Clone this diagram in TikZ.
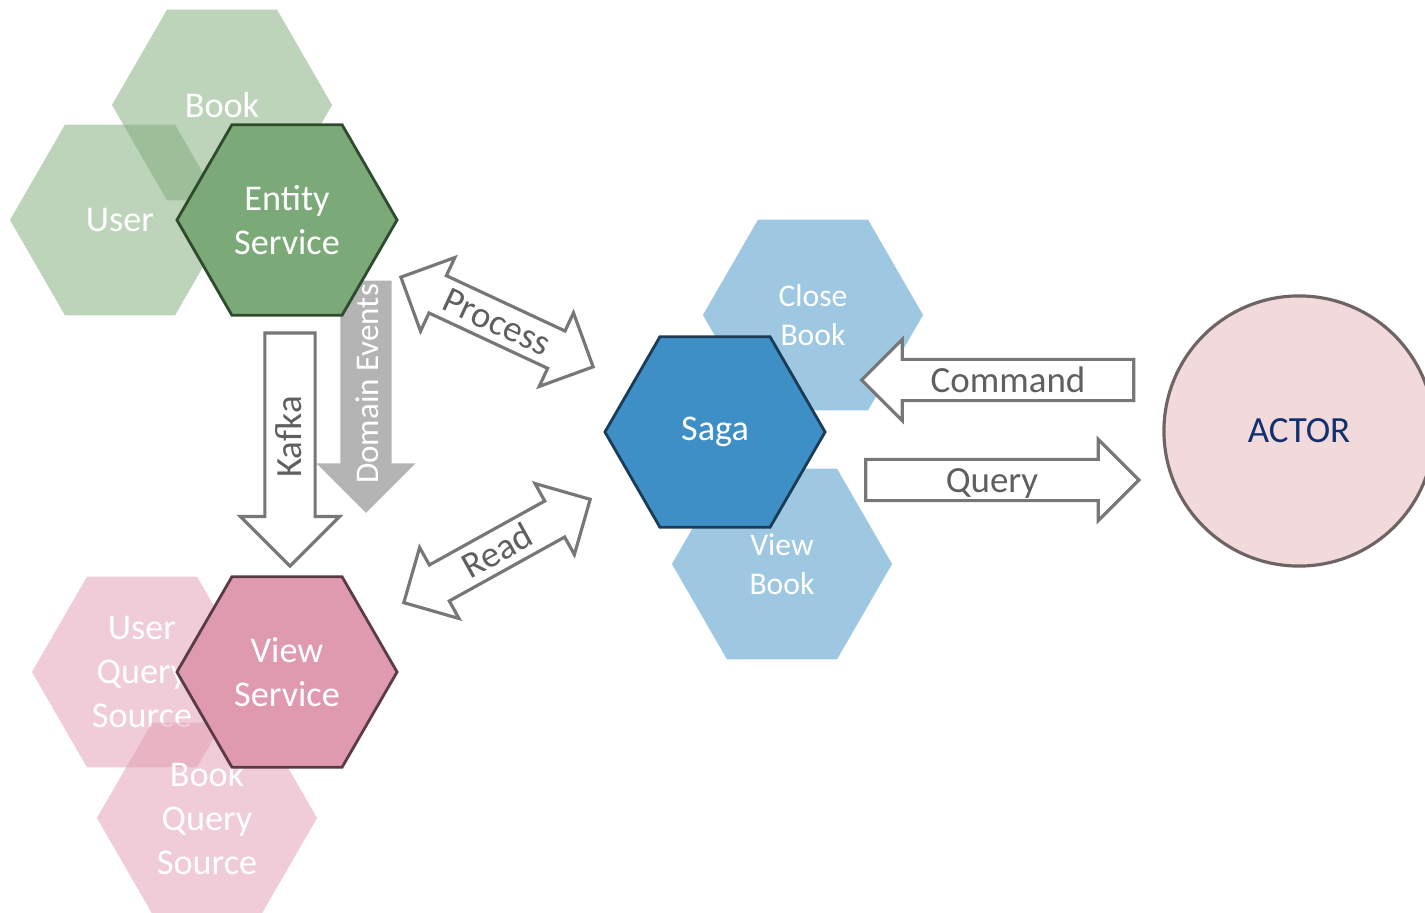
\documentclass[tikz,border=0pt]{standalone}
\usepackage{fontspec}
\setmainfont{Carlito}
\usetikzlibrary{shapes.geometric,shapes.arrows}

\definecolor{entitygreen}{HTML}{7BAA78}
\definecolor{entityline}{HTML}{2F4B2D}
\definecolor{viewpink}{HTML}{E09AAF}
\definecolor{viewline}{HTML}{5B3B45}
\definecolor{sagablue}{HTML}{3D8FC6}
\definecolor{sagaline}{HTML}{1B3C57}
\definecolor{actorfill}{HTML}{F2D9DB}
\definecolor{actorline}{HTML}{6E6464}
\definecolor{actortext}{HTML}{12306E}
\definecolor{arrowline}{HTML}{777777}
\definecolor{arrowtext}{HTML}{5F5F5F}
\definecolor{eventsgray}{HTML}{B4B4B4}

\begin{document}
\begin{tikzpicture}[x=0.01cm,y=-0.01cm,
    hex/.style={regular polygon,regular polygon sides=6,minimum size=2.2cm,inner sep=0pt,
                outer sep=0pt,align=center,text=white,font=\fontsize{10.3}{12.6}\selectfont},
    main hex/.style={hex,draw,line width=0.8pt},
    side hex/.style={hex,fill opacity=0.5,text opacity=1},
    small text/.style={font=\fontsize{9}{11}\selectfont},
    block/.style={draw=arrowline,line width=0.9pt,fill=white,text=arrowtext,inner sep=0pt,
                  outer sep=0pt,font=\fontsize{10.5}{12}\selectfont,text height=0.31cm,text depth=0.07cm},
    fat arrow/.style={block,single arrow,single arrow head extend=#1},
    twin arrow/.style={block,double arrow,double arrow head extend=#1}]

  \clip (0,0) rectangle (1425,913);

  % entity side
  \node[side hex,fill=entitygreen] (book) at (222,105) {Book};
  \node[side hex,fill=entitygreen] (user) at (120,220) {User};
  \node[fat arrow=0.24cm,draw=none,fill=eventsgray,text=white,font=\fontsize{9.4}{11}\selectfont,
        text height=0.36cm,text depth=0.12cm,rotate=90,shape border rotate=180,
        minimum height=2.32cm,minimum width=0.96cm] (events) at (366,384) {Domain Events};
  \node[main hex,fill=entitygreen,draw=entityline] (entity) at (287,220) {Entity\\Service};

  % view side
  \node[side hex,fill=viewpink] (userquery) at (142,672) {User\\Query\\Source};
  \node[side hex,fill=viewpink] (bookquery) at (207,818) {Book\\Query\\Source};
  \node[main hex,fill=viewpink,draw=viewline] (view) at (287,672) {View\\Service};

  % saga
  \node[side hex,fill=sagablue,small text] (closebook) at (813,315) {Close\\Book};
  \node[side hex,fill=sagablue,small text] (viewbook) at (782,564) {View\\Book};
  \node[main hex,fill=sagablue,draw=sagaline] (saga) at (715,432) {Saga};

  \node[circle,draw=actorline,fill=actorfill,line width=0.9pt,minimum size=2.7cm,text=actortext,
        font=\fontsize{10.5}{12}\selectfont] (actor) at (1299,431) {ACTOR};

  % block arrows
  \node[fat arrow=0.245cm,text height=0.35cm,text depth=0.12cm,rotate=90,shape border rotate=180,
        minimum height=2.33cm,minimum width=0.99cm] (kafka) at (290,437) {Kafka};
  \node[twin arrow=0.2cm,rotate=-25,minimum height=2.12cm,minimum width=0.8cm] (process) at (497,322) {Process};
  \node[twin arrow=0.2cm,rotate=29,minimum height=2.13cm,minimum width=0.8cm] (read) at (497,551) {Read};
  \node[fat arrow=0.2cm,shape border rotate=180,minimum height=2.72cm,minimum width=0.8cm] (command) at (1008,380) {Command};
  \node[fat arrow=0.2cm,minimum height=2.73cm,minimum width=0.8cm] (query) at (992,480) {Query};
\end{tikzpicture}
\end{document}
